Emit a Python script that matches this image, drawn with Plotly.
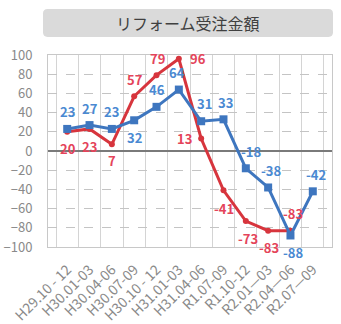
import plotly.graph_objects as go

# Quarterly periods and year-on-year values (%)
periods = ["H29.10 - 12", "H30.01-03", "H30.04-06", "H30.07-09", "H30.10 - 12",
           "H31.01-03", "H31.04-06", "R1.07-09", "R1.10-12", "R2.01—03",
           "R2.04—06", "R2.07—09"]
blue_values = [23, 27, 23, 32, 46, 64, 31, 33, -18, -38, -88, -42]
red_values = [20, 23, 7, 57, 79, 96, 13, -41, -73, -83, -83, None]

# Label offsets (px) for each point
blue_shift = [(0, 17), (0, 17), (0, 17), (0, -17), (0, 17), (-2, 17),
              (3, 18), (2, 17), (5, 17), (3, 17), (3, -17), (3, 17)]
red_shift = [(1, -17), (0, -18), (0, -16), (1, 17), (1, 17), (19, 0),
             (-17, 0), (1, -18), (2, -17), (1, -17), (3, 17), None]

BLUE = "#3e76bf"
RED = "#d7353d"
BLUE_TXT = "#4a89d2"
RED_TXT = "#e4445a"
FONT = "Noto Sans CJK JP"

fig = go.Figure()
fig.add_trace(go.Scatter(
    x=periods, y=red_values, mode="lines+markers",
    line=dict(color=RED, width=3),
    marker=dict(symbol="circle", size=6, color=RED),
    connectgaps=False, hoverinfo="skip"))
fig.add_trace(go.Scatter(
    x=periods, y=blue_values, mode="lines+markers",
    line=dict(color=BLUE, width=3),
    marker=dict(symbol="square", size=8, color=BLUE),
    hoverinfo="skip"))

annotations = []
for vals, shifts, col in ((blue_values, blue_shift, BLUE_TXT),
                          (red_values, red_shift, RED_TXT)):
    for p, v, s in zip(periods, vals, shifts):
        if v is None:
            continue
        annotations.append(dict(
            x=p, y=v, xref="x", yref="y", text=f"<b>{v}</b>",
            showarrow=False, xshift=s[0], yshift=s[1],
            font=dict(family=FONT, size=13, color=col)))

# Title inside a rounded grey box
annotations.append(dict(
    x=0.493, y=1.167, xref="paper", yref="paper", text="リフォーム受注金額",
    xanchor="center", yanchor="middle",
    showarrow=False, font=dict(family=FONT, size=16, color="#404040")))

x0, x1, y0, y1 = -0.0176, 1.0035, 1.094, 1.2396
rx, ry = 0.016, 0.024
box = (f"M {x0+rx},{y0} L {x1-rx},{y0} Q {x1},{y0} {x1},{y0+ry} "
       f"L {x1},{y1-ry} Q {x1},{y1} {x1-rx},{y1} L {x0+rx},{y1} "
       f"Q {x0},{y1} {x0},{y1-ry} L {x0},{y0+ry} Q {x0},{y0} {x0+rx},{y0} Z")

fig.update_layout(
    width=341, height=324,
    margin=dict(l=48, r=9, t=55, b=77),
    paper_bgcolor="white", plot_bgcolor="white",
    showlegend=False,
    font=dict(family=FONT, color="#8a8a8a", size=13),
    annotations=annotations,
    shapes=[dict(type="path", path=box, xref="paper", yref="paper",
                 fillcolor="#dadada", line=dict(width=0), layer="below")],
)
fig.update_xaxes(
    type="category", tickson="boundaries", tickangle=-45, automargin=False,
    showgrid=True, gridcolor="#d4d4d4", gridwidth=1,
    showline=True, linecolor="#c8c8c8", linewidth=1, mirror=True,
    ticks="", ticklabelstandoff=8,
    tickfont=dict(family=FONT, size=14, color="#8a8a8a"),
)
fig.update_yaxes(
    range=[-100, 100], dtick=20, tick0=0, automargin=False,
    showgrid=True, gridcolor="#c4c4c4", griddash="dash", gridwidth=1,
    zeroline=True, zerolinecolor="#7a7a7a", zerolinewidth=2,
    showline=True, linecolor="#c8c8c8", linewidth=1, mirror=True,
    ticks="", ticklabelstandoff=12,
    tickfont=dict(family=FONT, size=13, color="#8a8a8a"),
)

fig.write_html("out.html")
